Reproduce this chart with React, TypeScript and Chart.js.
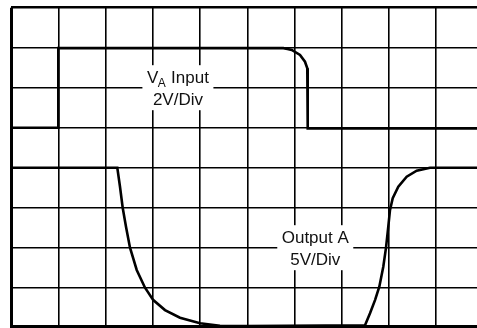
import { useEffect, useRef } from "react";
import { Chart, registerables } from "chart.js";

Chart.register(...registerables);

// Scope divisions (grid units)
const xRange = [0, 10];
const yRange = [0, 8];

// V_A Input trace (2V/Div)
const inputX = [0, 0.996, 0.996, 5.763, 5.852, 5.941, 6.117, 6.222, 6.271, 6.28, 6.28, 10];
const inputY = [5.0, 5.0, 6.99, 6.99, 6.97, 6.943, 6.818, 6.65, 6.485, 6.318, 4.98, 4.98];

// Output A trace (5V/Div)
const outputX = [0, 2.246, 2.303, 2.36, 2.43, 2.515, 2.657, 2.833, 3.008, 3.256, 3.574, 3.998, 4.42, 5.0, 7.494, 7.6, 7.706, 7.797, 7.881, 7.939, 7.987, 8.023, 8.081, 8.199, 8.377, 8.589, 8.871, 10];
const outputY = [4.0, 4.0, 3.525, 3.0, 2.525, 2.0, 1.443, 1.0, 0.69, 0.44, 0.25, 0.11, 0.05, 0.04, 0.06, 0.36, 0.69, 1.025, 1.525, 2.0, 2.525, 2.94, 3.235, 3.525, 3.775, 3.925, 4.0, 4.0];

// Trace annotations
const labelTitles = ["Input", "Output A"];
const labelScales = ["2V/Div", "5V/Div"];
const labelAtX = [3.53, 6.44];
const labelAtY = [6.0, 2.0];

const FONT = '"Liberation Sans", Arial, Helvetica, sans-serif';

const labelPlugin = {
  id: "scopeLabels",
  afterDraw(chart: any) {
    const ctx = chart.ctx;
    const xs = chart.scales.x;
    const ys = chart.scales.y;
    ctx.save();
    for (let i = 0; i < labelTitles.length; i++) {
      const cx = xs.getPixelForValue(labelAtX[i]);
      const cy = ys.getPixelForValue(labelAtY[i]);
      const boxW = i === 0 ? 71 : 76;
      const boxH = 45;
      ctx.fillStyle = "#fff";
      ctx.fillRect(cx - boxW / 2, cy - boxH / 2, boxW, boxH);
      ctx.fillStyle = "#111";
      ctx.textBaseline = "alphabetic";
      ctx.textAlign = "left";
      const big = `17px ${FONT}`;
      const small = `12px ${FONT}`;
      if (i === 0) {
        ctx.font = big;
        const wV = ctx.measureText("V").width;
        const wRest = ctx.measureText(" " + labelTitles[i]).width;
        ctx.font = small;
        const wA = ctx.measureText("A").width;
        const total = wV + wA + wRest;
        let x = cx - total / 2;
        ctx.font = big;
        ctx.fillText("V", x, cy - 4.5);
        x += wV;
        ctx.font = small;
        ctx.fillText("A", x - 0.5, cy - 1);
        x += wA;
        ctx.font = big;
        ctx.fillText(" " + labelTitles[i], x, cy - 4.5);
      } else {
        ctx.font = big;
        ctx.textAlign = "center";
        ctx.fillText(labelTitles[i], cx, cy - 5);
      }
      ctx.font = big;
      ctx.textAlign = "center";
      ctx.fillText(labelScales[i], cx, cy + 17.3);
    }
    ctx.restore();
  },
};

export default function App() {
  const ref = useRef<HTMLCanvasElement | null>(null);

  useEffect(() => {
    if (!ref.current) return;
    const chart = new Chart(ref.current, {
      type: "line",
      data: {
        datasets: [
          {
            label: "V_A Input",
            data: inputX.map((x, i) => ({ x, y: inputY[i] })),
            borderColor: "#000",
            borderWidth: 2.6,
            pointRadius: 0,
            tension: 0,
            fill: false,
          },
          {
            label: "Output A",
            data: outputX.map((x, i) => ({ x, y: outputY[i] })),
            borderColor: "#000",
            borderWidth: 2.6,
            pointRadius: 0,
            tension: 0,
            fill: false,
          },
        ],
      },
      options: {
        responsive: false,
        animation: false,
        devicePixelRatio: 1,
        layout: { padding: { left: 11.3, top: 7.7, right: 16.7, bottom: 12.3 } },
        plugins: { legend: { display: false }, tooltip: { enabled: false } },
        events: [],
        scales: {
          x: {
            type: "linear",
            min: xRange[0],
            max: xRange[1],
            ticks: { display: false, stepSize: 1 },
            grid: {
              color: "#000",
              drawTicks: false,
              lineWidth: (c: any) => (c.tick && c.tick.value === xRange[0] ? 3 : 1.6),
            },
            border: { display: false },
          },
          y: {
            type: "linear",
            min: yRange[0],
            max: yRange[1],
            ticks: { display: false, stepSize: 1 },
            grid: {
              color: "#000",
              drawTicks: false,
              lineWidth: (c: any) =>
                c.tick && c.tick.value === yRange[0] ? 5 : c.tick && c.tick.value === yRange[1] ? 2.6 : 1.6,
            },
            border: { display: false },
          },
        },
      },
      plugins: [labelPlugin],
    });
    return () => chart.destroy();
  }, []);

  return (
    <div
      style={{
        position: "fixed",
        left: 0,
        top: 0,
        width: 477,
        height: 328,
        overflow: "hidden",
        background: "#fff",
      }}
    >
      <canvas
        ref={ref}
        width={500}
        height={340}
        style={{ position: "absolute", left: 0, top: 0, width: 500, height: 340 }}
      />
    </div>
  );
}
